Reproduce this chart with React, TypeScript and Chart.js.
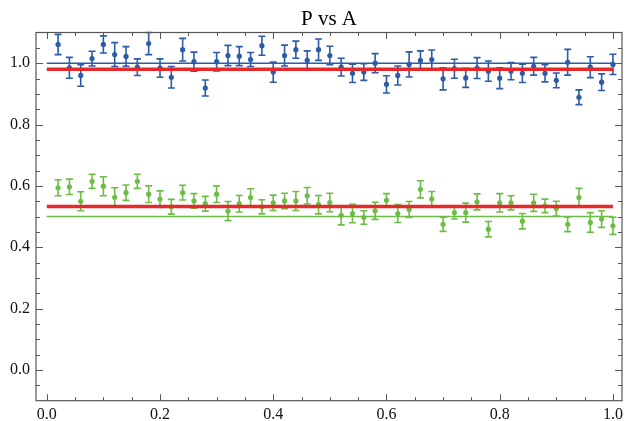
import React, { useEffect, useRef } from "react";
import { Chart, registerables } from "chart.js";

Chart.register(...registerables);

const xValues = [
  0.02, 0.04, 0.06, 0.08, 0.1, 0.12, 0.14, 0.16, 0.18, 0.2,
  0.22, 0.24, 0.26, 0.28, 0.3, 0.32, 0.34, 0.36, 0.38, 0.4,
  0.42, 0.44, 0.46, 0.48, 0.5, 0.52, 0.54, 0.56, 0.58, 0.6,
  0.62, 0.64, 0.66, 0.68, 0.7, 0.72, 0.74, 0.76, 0.78, 0.8,
  0.82, 0.84, 0.86, 0.88, 0.9, 0.92, 0.94, 0.96, 0.98, 1.0,
];

const blueY = [
  1.061, 0.985, 0.96, 1.015, 1.061, 1.028, 1.022, 0.987, 1.064, 0.984,
  0.954, 1.044, 1.005, 0.919, 1.005, 1.025, 1.023, 1.012, 1.057, 0.971,
  1.025, 1.044, 1.009, 1.044, 1.025, 0.987, 0.967, 0.971, 1.0, 0.931,
  0.96, 0.996, 1.009, 1.012, 0.949, 0.982, 0.952, 0.984, 0.974, 0.951,
  0.974, 0.967, 0.99, 0.967, 0.944, 1.003, 0.889, 0.987, 0.938, 0.996,
];
const blueErr = [
  0.033, 0.034, 0.035, 0.024, 0.028, 0.039, 0.032, 0.027, 0.036, 0.03,
  0.035, 0.037, 0.031, 0.026, 0.03, 0.033, 0.031, 0.023, 0.031, 0.033,
  0.034, 0.028, 0.031, 0.035, 0.03, 0.029, 0.03, 0.027, 0.031, 0.028,
  0.031, 0.041, 0.031, 0.031, 0.036, 0.031, 0.031, 0.034, 0.033, 0.034,
  0.028, 0.03, 0.029, 0.028, 0.024, 0.042, 0.024, 0.034, 0.027, 0.033,
];

const greenY = [
  0.594, 0.597, 0.55, 0.615, 0.599, 0.563, 0.578, 0.615, 0.573, 0.557,
  0.532, 0.578, 0.551, 0.542, 0.573, 0.518, 0.542, 0.562, 0.532, 0.545,
  0.551, 0.551, 0.568, 0.539, 0.546, 0.504, 0.51, 0.497, 0.519, 0.553,
  0.51, 0.523, 0.589, 0.557, 0.475, 0.513, 0.513, 0.548, 0.459, 0.545,
  0.545, 0.485, 0.545, 0.535, 0.526, 0.475, 0.562, 0.481, 0.492, 0.47,
];
const greenErr = [
  0.026, 0.025, 0.031, 0.023, 0.031, 0.031, 0.025, 0.023, 0.027, 0.027,
  0.024, 0.024, 0.024, 0.024, 0.027, 0.031, 0.027, 0.029, 0.023, 0.025,
  0.025, 0.031, 0.027, 0.03, 0.03, 0.031, 0.03, 0.022, 0.028, 0.022,
  0.029, 0.026, 0.028, 0.025, 0.023, 0.021, 0.031, 0.026, 0.025, 0.03,
  0.023, 0.025, 0.028, 0.022, 0.024, 0.024, 0.03, 0.032, 0.027, 0.028,
];

const lineX = [0, 1];
const blueRef = 1.0;
const blueFit = 0.98;
const greenRef = 0.5;
const greenFit = 0.533;

const xTicks = [0, 0.2, 0.4, 0.6, 0.8, 1.0];
const yTicks = [0, 0.2, 0.4, 0.6, 0.8, 1.0];
const xMinor = [0.05, 0.1, 0.15, 0.25, 0.3, 0.35, 0.45, 0.5, 0.55, 0.65, 0.7, 0.75, 0.85, 0.9, 0.95];
const yMinor = [-0.05, 0.05, 0.1, 0.15, 0.25, 0.3, 0.35, 0.45, 0.5, 0.55, 0.65, 0.7, 0.75, 0.85, 0.9, 0.95, 1.05];

const BLUE = "#2b5ba9";
const GREEN = "#6cbd45";
const RED = "#e6292b";
const FRAME = "#555555";

const errorBars = {
  id: "errorBars",
  beforeDatasetsDraw(chart: any) {
    const ctx = chart.ctx;
    const xs = chart.scales.x;
    const ys = chart.scales.y;
    const sets = [
      { y: blueY, e: blueErr, c: BLUE },
      { y: greenY, e: greenErr, c: GREEN },
    ];
    ctx.save();
    ctx.lineWidth = 1.6;
    for (const s of sets) {
      ctx.strokeStyle = s.c;
      for (let i = 0; i < xValues.length; i++) {
        const px = xs.getPixelForValue(xValues[i]);
        const top = ys.getPixelForValue(s.y[i] + s.e[i]);
        const bot = ys.getPixelForValue(s.y[i] - s.e[i]);
        ctx.beginPath();
        ctx.moveTo(px, top);
        ctx.lineTo(px, bot);
        ctx.moveTo(px - 3.5, top);
        ctx.lineTo(px + 3.5, top);
        ctx.moveTo(px - 3.5, bot);
        ctx.lineTo(px + 3.5, bot);
        ctx.stroke();
      }
    }
    ctx.restore();
  },
};

const frame = {
  id: "frame",
  afterDraw(chart: any) {
    const ctx = chart.ctx;
    const { left, right, top, bottom } = chart.chartArea;
    const xs = chart.scales.x;
    const ys = chart.scales.y;
    ctx.save();
    ctx.strokeStyle = FRAME;
    ctx.lineWidth = 1.2;
    ctx.strokeRect(left, top, right - left, bottom - top);
    ctx.lineWidth = 1;
    ctx.beginPath();
    const xt = (v: number, len: number) => {
      const p = Math.round(xs.getPixelForValue(v)) + 0.5;
      ctx.moveTo(p, bottom);
      ctx.lineTo(p, bottom - len);
      ctx.moveTo(p, top);
      ctx.lineTo(p, top + len);
    };
    const yt = (v: number, len: number) => {
      const p = Math.round(ys.getPixelForValue(v)) + 0.5;
      ctx.moveTo(left, p);
      ctx.lineTo(left + len, p);
      ctx.moveTo(right, p);
      ctx.lineTo(right - len, p);
    };
    xTicks.forEach((v) => xt(v, 6.5));
    xMinor.forEach((v) => xt(v, 3.5));
    yTicks.forEach((v) => yt(v, 7));
    yMinor.forEach((v) => yt(v, 4));
    ctx.stroke();
    ctx.restore();
  },
};

export default function App() {
  const ref = useRef<HTMLCanvasElement | null>(null);
  useEffect(() => {
    if (!ref.current) return;
    const tickFont = { family: "'Liberation Serif', serif", size: 16 };
    const chart = new Chart(ref.current, {
      type: "scatter",
      data: {
        datasets: [
          {
            type: "line",
            data: lineX.map((x) => ({ x, y: blueFit })),
            borderColor: RED,
            borderWidth: 3.5,
            pointRadius: 0,
            order: 0,
          } as any,
          {
            type: "line",
            data: lineX.map((x) => ({ x, y: greenFit })),
            borderColor: RED,
            borderWidth: 3.5,
            pointRadius: 0,
            order: 0,
          } as any,
          {
            type: "line",
            data: lineX.map((x) => ({ x, y: blueRef })),
            borderColor: BLUE,
            borderWidth: 1.5,
            pointRadius: 0,
            order: 1,
          } as any,
          {
            type: "line",
            data: lineX.map((x) => ({ x, y: greenRef })),
            borderColor: GREEN,
            borderWidth: 1.5,
            pointRadius: 0,
            order: 1,
          } as any,
          {
            data: xValues.map((x, i) => ({ x, y: blueY[i] })),
            backgroundColor: BLUE,
            borderWidth: 0,
            pointRadius: 2.6,
            order: 2,
          },
          {
            data: xValues.map((x, i) => ({ x, y: greenY[i] })),
            backgroundColor: GREEN,
            borderWidth: 0,
            pointRadius: 2.6,
            order: 2,
          },
        ],
      },
      options: {
        animation: false,
        responsive: false,
        devicePixelRatio: 1,
        layout: { padding: { left: 0, right: 1, top: 0, bottom: 0 } },
        plugins: {
          legend: { display: false },
          tooltip: { enabled: false },
          title: {
            display: true,
            text: "P vs A",
            color: "#000",
            fullSize: false,
            font: { family: "'Liberation Serif', serif", size: 21, weight: "normal" as any, lineHeight: 1.2 },
            padding: { top: 7, bottom: 0.3 },
          },
        },
        scales: {
          x: {
            type: "linear",
            min: -0.019,
            max: 1.016,
            grid: { display: false, drawTicks: false },
            border: { display: false },
            afterBuildTicks: (s: any) => {
              s.ticks = xTicks.map((v) => ({ value: v }));
            },
            afterFit: (s: any) => {
              s.height = 20.3;
              s.paddingLeft = 0;
              s.paddingRight = 0;
              s.paddingTop = 0;
              s.paddingBottom = 0;
            },
            ticks: {
              color: "#111",
              font: tickFont,
              padding: 4,
              maxRotation: 0,
              autoSkip: false,
              callback: (v: any) => Number(v).toFixed(1),
            },
          },
          y: {
            type: "linear",
            min: -0.1,
            max: 1.1,
            grid: { display: false, drawTicks: false },
            border: { display: false },
            afterBuildTicks: (s: any) => {
              s.ticks = yTicks.map((v) => ({ value: v }));
            },
            afterFit: (s: any) => {
              s.width = 36;
              s.paddingLeft = 0;
              s.paddingRight = 0;
              s.paddingTop = 0;
              s.paddingBottom = 0;
            },
            ticks: {
              color: "#111",
              font: tickFont,
              padding: 6,
              autoSkip: false,
              callback: (v: any) => Number(v).toFixed(1),
            },
          },
        },
      },
      plugins: [errorBars, frame],
    });
    return () => chart.destroy();
  }, []);
  return (
    <div style={{ position: "absolute", left: 0, top: 0, width: 626, height: 421, background: "#fff" }}>
      <canvas ref={ref} width={626} height={421} style={{ display: "block" }} />
    </div>
  );
}
